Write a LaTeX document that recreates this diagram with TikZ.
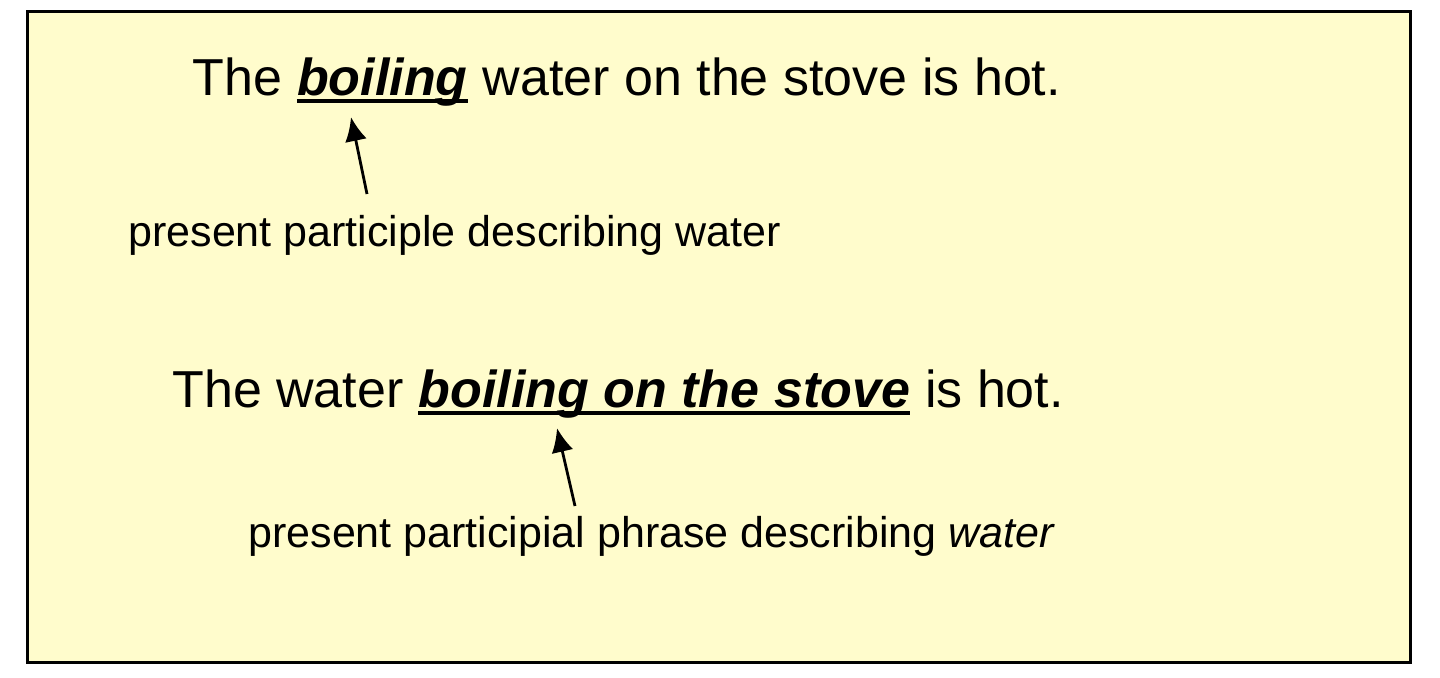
\documentclass[tikz,border=0pt]{standalone}
\usepackage{fontspec}
\setmainfont{Liberation Sans}
\usetikzlibrary{arrows.meta,positioning}

\begin{document}
\begin{tikzpicture}[x=0.5pt,y=-0.5pt]
\tikzstyle{sent} = [inner sep=0pt, anchor=base west, font=\fontsize{26}{30}\selectfont]
\tikzstyle{marked} = [sent, font=\fontsize{26}{30}\selectfont\bfseries\itshape]
\tikzstyle{note} = [inner sep=0pt, anchor=base west, font=\fontsize{21.5}{25}\selectfont]
\tikzstyle{uline} = [line width=1.7pt]
\tikzstyle{pointer} = [-{Latex[length=12pt,width=11pt]}, line width=1.4pt]
\useasboundingbox (0,0) rectangle (1440,677);
\draw[line width=1.5pt, fill=yellow!20] (27,11) rectangle (1410,662);
% first sentence
\node[sent] (pre1) at (192,95) {The};
\node[marked][base right=7.2pt of pre1](boil1){boiling};
\node[sent][base right=7.2pt of boil1](post1){water on the stove is hot.};
\draw[uline] ([yshift=-3pt]boil1.base west) -- ([yshift=-3pt]boil1.base east);
\node[note] (lab1) at (128,246) {present participle describing water};
\coordinate (tail1) at (367,194);
\coordinate (tip1) at (351,117);
\draw[pointer] (tail1) -- (tip1);
% second sentence
\node[sent] (pre2) at (172,407) {The water};
\node[marked][base right=7.2pt of pre2](boil2){boiling on the stove};
\node[sent][base right=7.2pt of boil2](post2){is hot.};
\draw[uline] ([yshift=-3pt]boil2.base west) -- ([yshift=-3pt]boil2.base east);
\node[note] (lab2) at (248,547) {present participial phrase describing \textit{water}};
\coordinate (tail2) at (575,506);
\coordinate (tip2) at (557,428);
\draw[pointer] (tail2) -- (tip2);
\end{tikzpicture}
\end{document}
